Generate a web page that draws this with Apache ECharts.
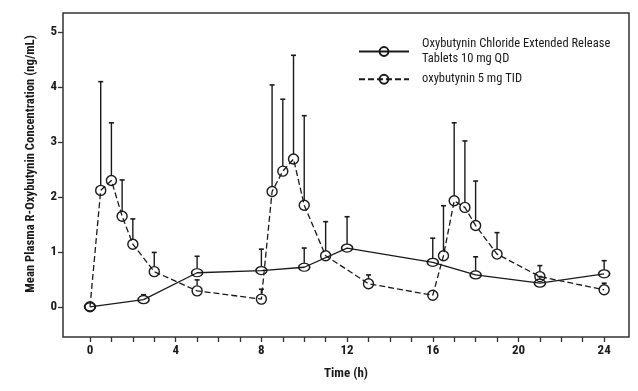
<!DOCTYPE html>
<html>
<head>
<meta charset="utf-8">
<script src="https://cdn.jsdelivr.net/npm/echarts@6/dist/echarts.min.js"></script>
<style>html,body{margin:0;padding:0;background:#fff}#c{width:638px;height:391px}</style>
</head>
<body>
<div id="c"></div>
<script>
// QD extended release series
var qdTime  = [0, 2.5, 5, 8, 10, 12, 16, 18, 21, 24];
var qdMean  = [0, 0.13, 0.62, 0.66, 0.72, 1.07, 0.81, 0.58, 0.43, 0.60];
var qdUpper = [null, 0.22, 0.92, 1.05, 1.07, 1.64, 1.25, 0.91, 0.55, 0.84];
// TID series
var tidTime  = [0, 0.5, 1, 1.5, 2, 3, 5, 8, 8.5, 9, 9.5, 10, 11, 13, 16, 16.5, 17, 17.5, 18, 19, 21, 24];
var tidMean  = [0, 2.12, 2.30, 1.65, 1.14, 0.64, 0.29, 0.14, 2.10, 2.47, 2.69, 1.85, 0.93, 0.42, 0.21, 0.93, 1.93, 1.81, 1.48, 0.96, 0.55, 0.31];
var tidUpper = [null, 4.10, 3.35, 2.31, 1.60, 0.99, 0.49, 0.32, 4.04, 3.78, 4.58, 3.48, 1.55, 0.58, null, 1.84, 3.35, 3.02, 2.29, 1.35, 0.75, 0.43];
// axis ticks
var xTickLabels = [0, 4, 8, 12, 16, 20, 24];
var xTicks = [0,1,2,3,4,5,6,7,8,9,10,11,12,13,14,15,16,17,18,19,20,21,22,23,24];
var yTicks = [0, 1, 2, 3, 4, 5];
var qdName = 'Oxybutynin Chloride Extended Release\nTablets 10 mg QD';
var tidName = 'oxybutynin 5 mg TID';

var FONT = '"Roboto Condensed", "Open Sans", sans-serif';
var INK = '#1a1a1a';

function pairs(t, v) { return t.map(function (x, i) { return [x, v[i]]; }); }
function errData(t, m, u) {
  var out = [];
  t.forEach(function (x, i) { if (u[i] != null) out.push([x, m[i], u[i]]); });
  return out;
}
function errRender(offset) {
  return function (params, api) {
    var p0 = api.coord([api.value(0), api.value(1)]);
    var p1 = api.coord([api.value(0), api.value(2)]);
    var y0 = p0[1] - offset;
    if (y0 < p1[1]) y0 = p1[1];
    return {
      type: 'group',
      children: [
        { type: 'line', shape: { x1: p0[0], y1: y0, x2: p1[0], y2: p1[1] }, style: { stroke: INK, lineWidth: 1.4 } },
        { type: 'line', shape: { x1: p1[0] - 2.5, y1: p1[1], x2: p1[0] + 2.5, y2: p1[1] }, style: { stroke: INK, lineWidth: 1.6 } }
      ]
    };
  };
}

var ellipse = 'path://M0,4 A6,4 0 1,1 12,4 A6,4 0 1,1 0,4 Z';

var chart = echarts.init(document.getElementById('c'), null, { renderer: 'canvas' });
chart.setOption({
  animation: false,
  backgroundColor: '#fff',
  grid: { left: 63, top: 13, right: 9, bottom: 54, show: true, borderColor: '#333', borderWidth: 1.5, backgroundColor: 'transparent' },
  xAxis: {
    type: 'value', min: -1.26, max: 25.16,
    axisLine: { show: false, onZero: false },
    splitLine: { show: false },
    axisTick: { show: true, length: 5, customValues: xTicks, lineStyle: { color: '#333', width: 1.3 } },
    axisLabel: { customValues: xTickLabels, margin: 7, color: INK, fontFamily: FONT, fontWeight: 'bold', fontSize: 13 },
    name: 'Time (h)', nameLocation: 'middle', nameGap: 30,
    nameTextStyle: { color: INK, fontFamily: FONT, fontWeight: 'bold', fontSize: 13 }
  },
  yAxis: {
    type: 'value', min: -0.55, max: 5.35,
    axisLine: { show: false, onZero: false },
    splitLine: { show: false },
    axisTick: { show: true, length: 5, customValues: yTicks, lineStyle: { color: '#333', width: 1.3 } },
    axisLabel: { customValues: yTicks, margin: 6, color: INK, fontFamily: FONT, fontWeight: 'bold', fontSize: 13 }
  },
  legend: {
    orient: 'vertical', left: 358, top: 37, padding: 0,
    itemWidth: 50, itemHeight: 11, itemGap: 6,
    data: [qdName, tidName],
    textStyle: { color: INK, fontFamily: FONT, fontSize: 12.5, lineHeight: 14.5, padding: [0, 0, 0, 8] }
  },
  graphic: [{
    type: 'text', x: 31, y: 164, rotation: Math.PI / 2,
    style: { text: 'Mean Plasma R-Oxybutynin Concentration (ng/mL)', fill: INK, font: 'bold 12.7px ' + FONT, align: 'center', verticalAlign: 'middle' }
  }],
  series: [
    { type: 'custom', name: 'qdErr', data: errData(qdTime, qdMean, qdUpper), renderItem: errRender(4), clip: true, z: 1 },
    { type: 'custom', name: 'tidErr', data: errData(tidTime, tidMean, tidUpper), renderItem: errRender(5), clip: true, z: 1 },
    {
      type: 'line', name: qdName, data: pairs(qdTime, qdMean),
      symbol: ellipse, symbolSize: [11, 8], showAllSymbol: true,
      lineStyle: { color: INK, width: 1.3, type: 'solid' },
      itemStyle: { color: 'rgba(255,255,255,0)', borderColor: INK, borderWidth: 1.4 },
      z: 3
    },
    {
      type: 'line', name: tidName, data: pairs(tidTime, tidMean),
      symbol: 'circle', symbolSize: 10, showAllSymbol: true,
      lineStyle: { color: INK, width: 1.3, type: [6, 3] },
      itemStyle: { color: 'rgba(255,255,255,0)', borderColor: INK, borderWidth: 1.4 },
      z: 3
    }
  ]
});
</script>
</body>
</html>
